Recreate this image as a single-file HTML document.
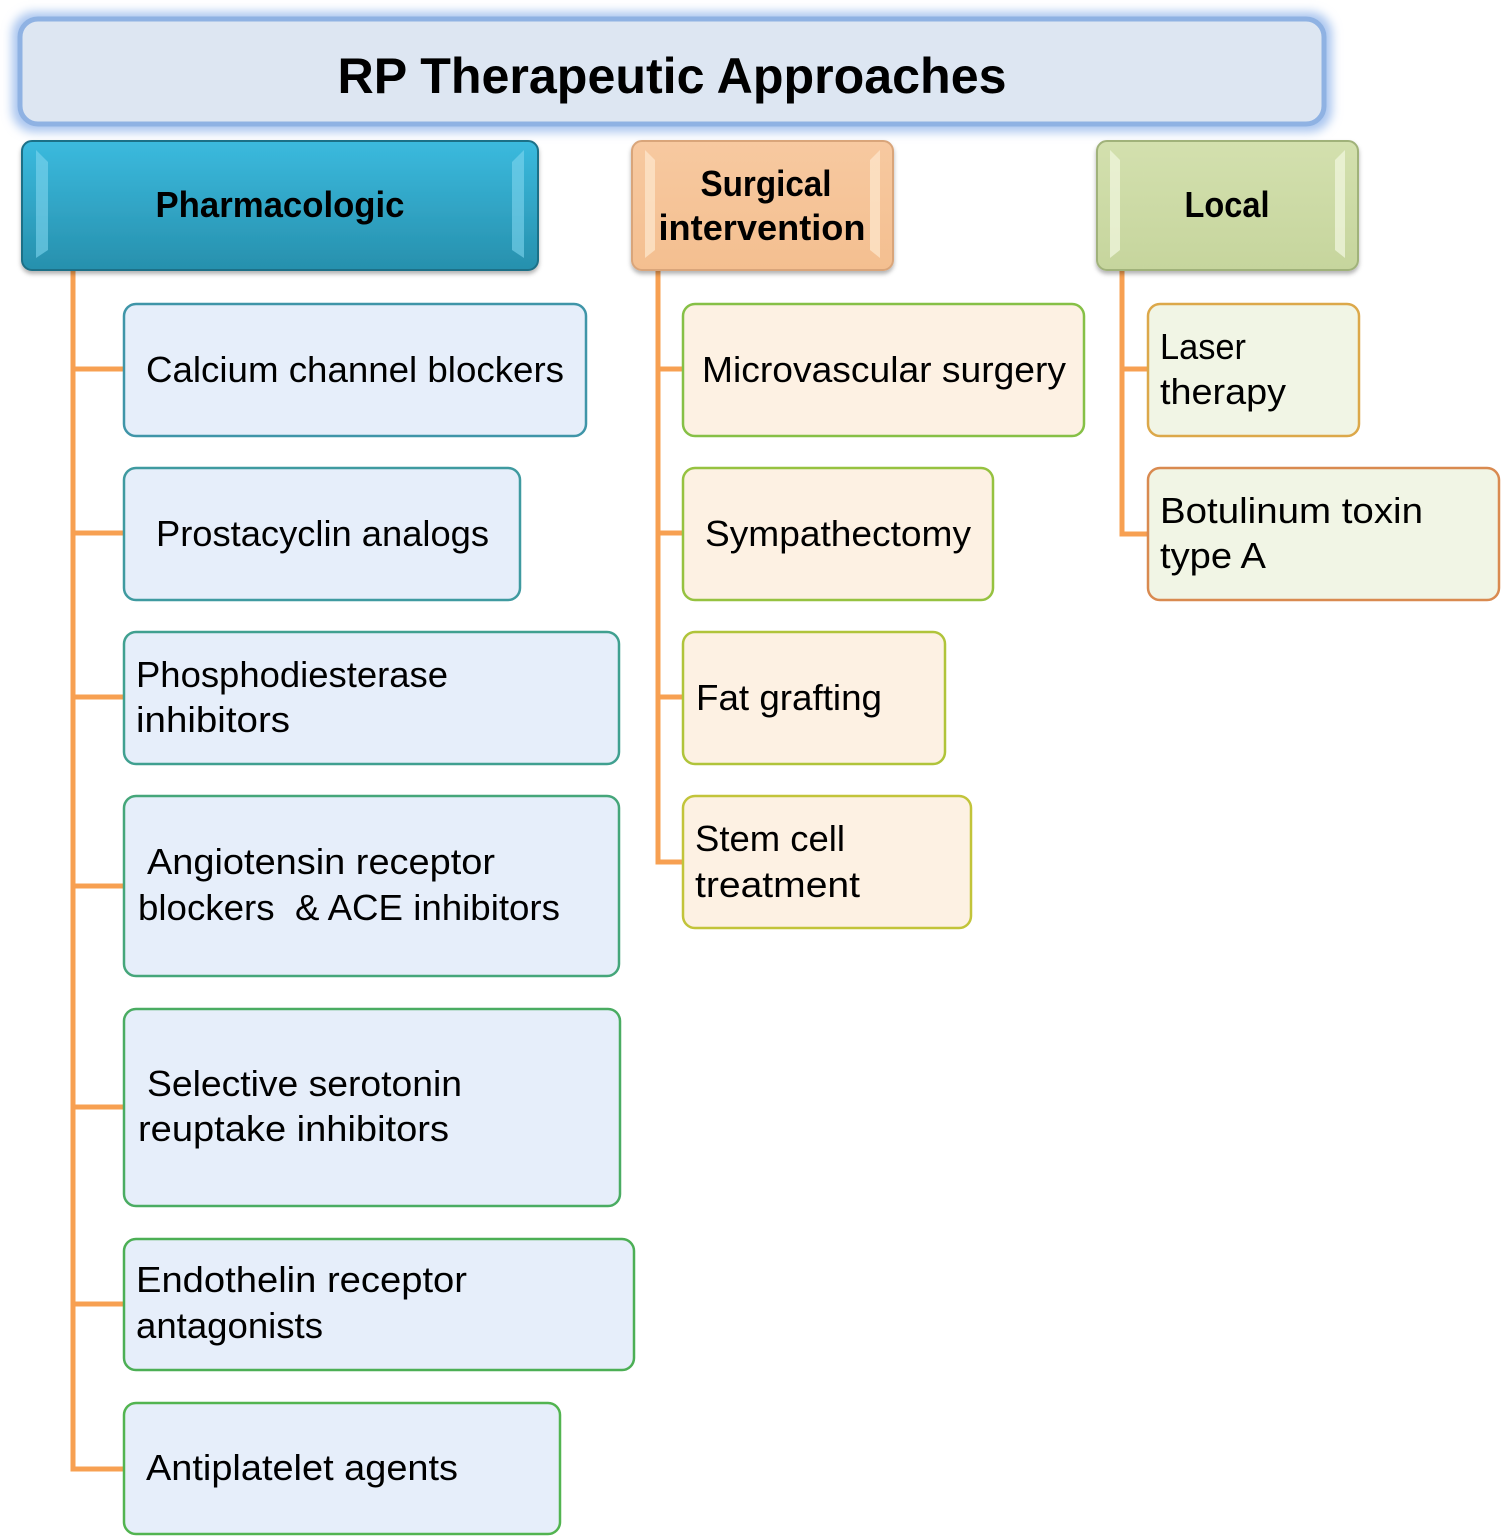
<!DOCTYPE html>
<html><head><meta charset="utf-8"><style>html,body{margin:0;padding:0;background:#fff}svg{display:block}</style></head>
<body>
<svg width="1502" height="1538" viewBox="0 0 1502 1538" xmlns="http://www.w3.org/2000/svg" font-family="'Liberation Sans', sans-serif">
<defs>
<linearGradient id="teal" x1="0" y1="0" x2="0" y2="1"><stop offset="0" stop-color="#3bbade"/><stop offset="1" stop-color="#2790ad"/></linearGradient>
<linearGradient id="peach" x1="0" y1="0" x2="0" y2="1"><stop offset="0" stop-color="#f7c9a0"/><stop offset="1" stop-color="#f4bf90"/></linearGradient>
<linearGradient id="olive" x1="0" y1="0" x2="0" y2="1"><stop offset="0" stop-color="#d3e0ae"/><stop offset="1" stop-color="#c6d59d"/></linearGradient>
<filter id="sh" x="-5%" y="-5%" width="110%" height="120%"><feDropShadow dx="0" dy="3" stdDeviation="2" flood-color="#000" flood-opacity="0.3"/></filter>
<filter id="glow" x="-5%" y="-20%" width="110%" height="140%"><feGaussianBlur stdDeviation="5"/></filter>
</defs>

<!-- title -->
<rect x="12" y="12" width="1320" height="120" rx="22" fill="#a9c5ef" filter="url(#glow)"/>
<rect x="20" y="19" width="1304" height="105" rx="18" fill="#dde6f2" stroke="#8fb2e3" stroke-width="5"/>
<text x="672" y="93" font-size="50" font-weight="bold" text-anchor="middle" textLength="669" lengthAdjust="spacingAndGlyphs">RP Therapeutic Approaches</text>

<!-- connectors -->
<g stroke="#f7a052" stroke-width="5" fill="none">
<path d="M73 270 V1469 H124"/>
<path d="M73 369 H124 M73 533 H124 M73 697 H124 M73 886 H124 M73 1107 H124 M73 1304 H124"/>
<path d="M658 270 V862 H683"/>
<path d="M658 369 H683 M658 533 H683 M658 697 H683"/>
<path d="M1122 270 V534 H1148 M1122 369 H1148"/>
</g>

<!-- headers -->
<rect x="22" y="141" width="516" height="129" rx="10" fill="url(#teal)" stroke="#1f6f87" stroke-width="2" filter="url(#sh)"/>
<path d="M36 150 L48 162 V250 L36 258 Z M524 150 L512 162 V250 L524 258 Z" fill="#7fd6ee" opacity="0.6"/>
<text x="280" y="217" font-size="36" font-weight="bold" text-anchor="middle" textLength="249" lengthAdjust="spacingAndGlyphs">Pharmacologic</text>

<rect x="632" y="141" width="261" height="129" rx="10" fill="url(#peach)" stroke="#d9a57a" stroke-width="2" filter="url(#sh)"/>
<path d="M645 150 L655 160 V250 L645 258 Z M880 150 L870 160 V250 L880 258 Z" fill="#fde3c8" opacity="0.8"/>
<text x="766" y="196" font-size="36" font-weight="bold" text-anchor="middle" textLength="131" lengthAdjust="spacingAndGlyphs">Surgical</text>
<text x="762" y="240" font-size="36" font-weight="bold" text-anchor="middle" textLength="207" lengthAdjust="spacingAndGlyphs">intervention</text>

<rect x="1097" y="141" width="261" height="129" rx="10" fill="url(#olive)" stroke="#a0b27a" stroke-width="2" filter="url(#sh)"/>
<path d="M1110 150 L1120 160 V250 L1110 258 Z M1345 150 L1335 160 V250 L1345 258 Z" fill="#eef4da" opacity="0.8"/>
<text x="1227" y="217" font-size="36" font-weight="bold" text-anchor="middle" textLength="85" lengthAdjust="spacingAndGlyphs">Local</text>

<!-- pharm children -->
<g fill="#e6eefa" stroke-width="2.5">
<rect x="124" y="304" width="462" height="132" rx="12" stroke="#3f95a8"/>
<rect x="124" y="468" width="396" height="132" rx="12" stroke="#3f9aa0"/>
<rect x="124" y="632" width="495" height="132" rx="12" stroke="#40a090"/>
<rect x="124" y="796" width="495" height="180" rx="12" stroke="#45a67a"/>
<rect x="124" y="1009" width="496" height="197" rx="12" stroke="#4aac62"/>
<rect x="124" y="1239" width="510" height="131" rx="12" stroke="#4caf55"/>
<rect x="124" y="1403" width="436" height="131" rx="12" stroke="#52b450"/>
</g>
<!-- surgical children -->
<g fill="#fdf1e3" stroke-width="2.5">
<rect x="683" y="304" width="401" height="132" rx="12" stroke="#86c046"/>
<rect x="683" y="468" width="310" height="132" rx="12" stroke="#96c240"/>
<rect x="683" y="632" width="262" height="132" rx="12" stroke="#b0c43a"/>
<rect x="683" y="796" width="288" height="132" rx="12" stroke="#c2c43a"/>
</g>
<!-- local children -->
<g fill="#f1f5e5" stroke-width="2.5">
<rect x="1148" y="304" width="211" height="132" rx="12" stroke="#dca84a"/>
<rect x="1148" y="468" width="351" height="132" rx="12" stroke="#d98a50"/>
</g>

<g font-size="36" fill="#000" lengthAdjust="spacingAndGlyphs">
<text x="146" y="382" textLength="418" lengthAdjust="spacingAndGlyphs">Calcium channel blockers</text>
<text x="156" y="546" textLength="333" lengthAdjust="spacingAndGlyphs">Prostacyclin analogs</text>
<text x="136" y="687" textLength="312" lengthAdjust="spacingAndGlyphs">Phosphodiesterase</text>
<text x="136" y="732" textLength="154" lengthAdjust="spacingAndGlyphs">inhibitors</text>
<text x="147" y="874" textLength="348" lengthAdjust="spacingAndGlyphs">Angiotensin receptor</text>
<text x="138" y="920" textLength="422" lengthAdjust="spacingAndGlyphs" xml:space="preserve">blockers  &amp; ACE inhibitors</text>
<text x="147" y="1096" textLength="315" lengthAdjust="spacingAndGlyphs">Selective serotonin</text>
<text x="138" y="1141" textLength="311" lengthAdjust="spacingAndGlyphs">reuptake inhibitors</text>
<text x="136" y="1292" textLength="331" lengthAdjust="spacingAndGlyphs">Endothelin receptor</text>
<text x="136" y="1338" textLength="187" lengthAdjust="spacingAndGlyphs">antagonists</text>
<text x="146" y="1480" textLength="312" lengthAdjust="spacingAndGlyphs">Antiplatelet agents</text>

<text x="702" y="382" textLength="364" lengthAdjust="spacingAndGlyphs">Microvascular surgery</text>
<text x="705" y="546" textLength="266" lengthAdjust="spacingAndGlyphs">Sympathectomy</text>
<text x="696" y="710" textLength="186" lengthAdjust="spacingAndGlyphs">Fat grafting</text>
<text x="695" y="851" textLength="150" lengthAdjust="spacingAndGlyphs">Stem cell</text>
<text x="695" y="897" textLength="165" lengthAdjust="spacingAndGlyphs">treatment</text>

<text x="1160" y="359" textLength="86" lengthAdjust="spacingAndGlyphs">Laser</text>
<text x="1160" y="404" textLength="126" lengthAdjust="spacingAndGlyphs">therapy</text>
<text x="1160" y="523" textLength="263" lengthAdjust="spacingAndGlyphs">Botulinum toxin</text>
<text x="1160" y="568" textLength="106" lengthAdjust="spacingAndGlyphs">type A</text>
</g>
</svg>
</body></html>
